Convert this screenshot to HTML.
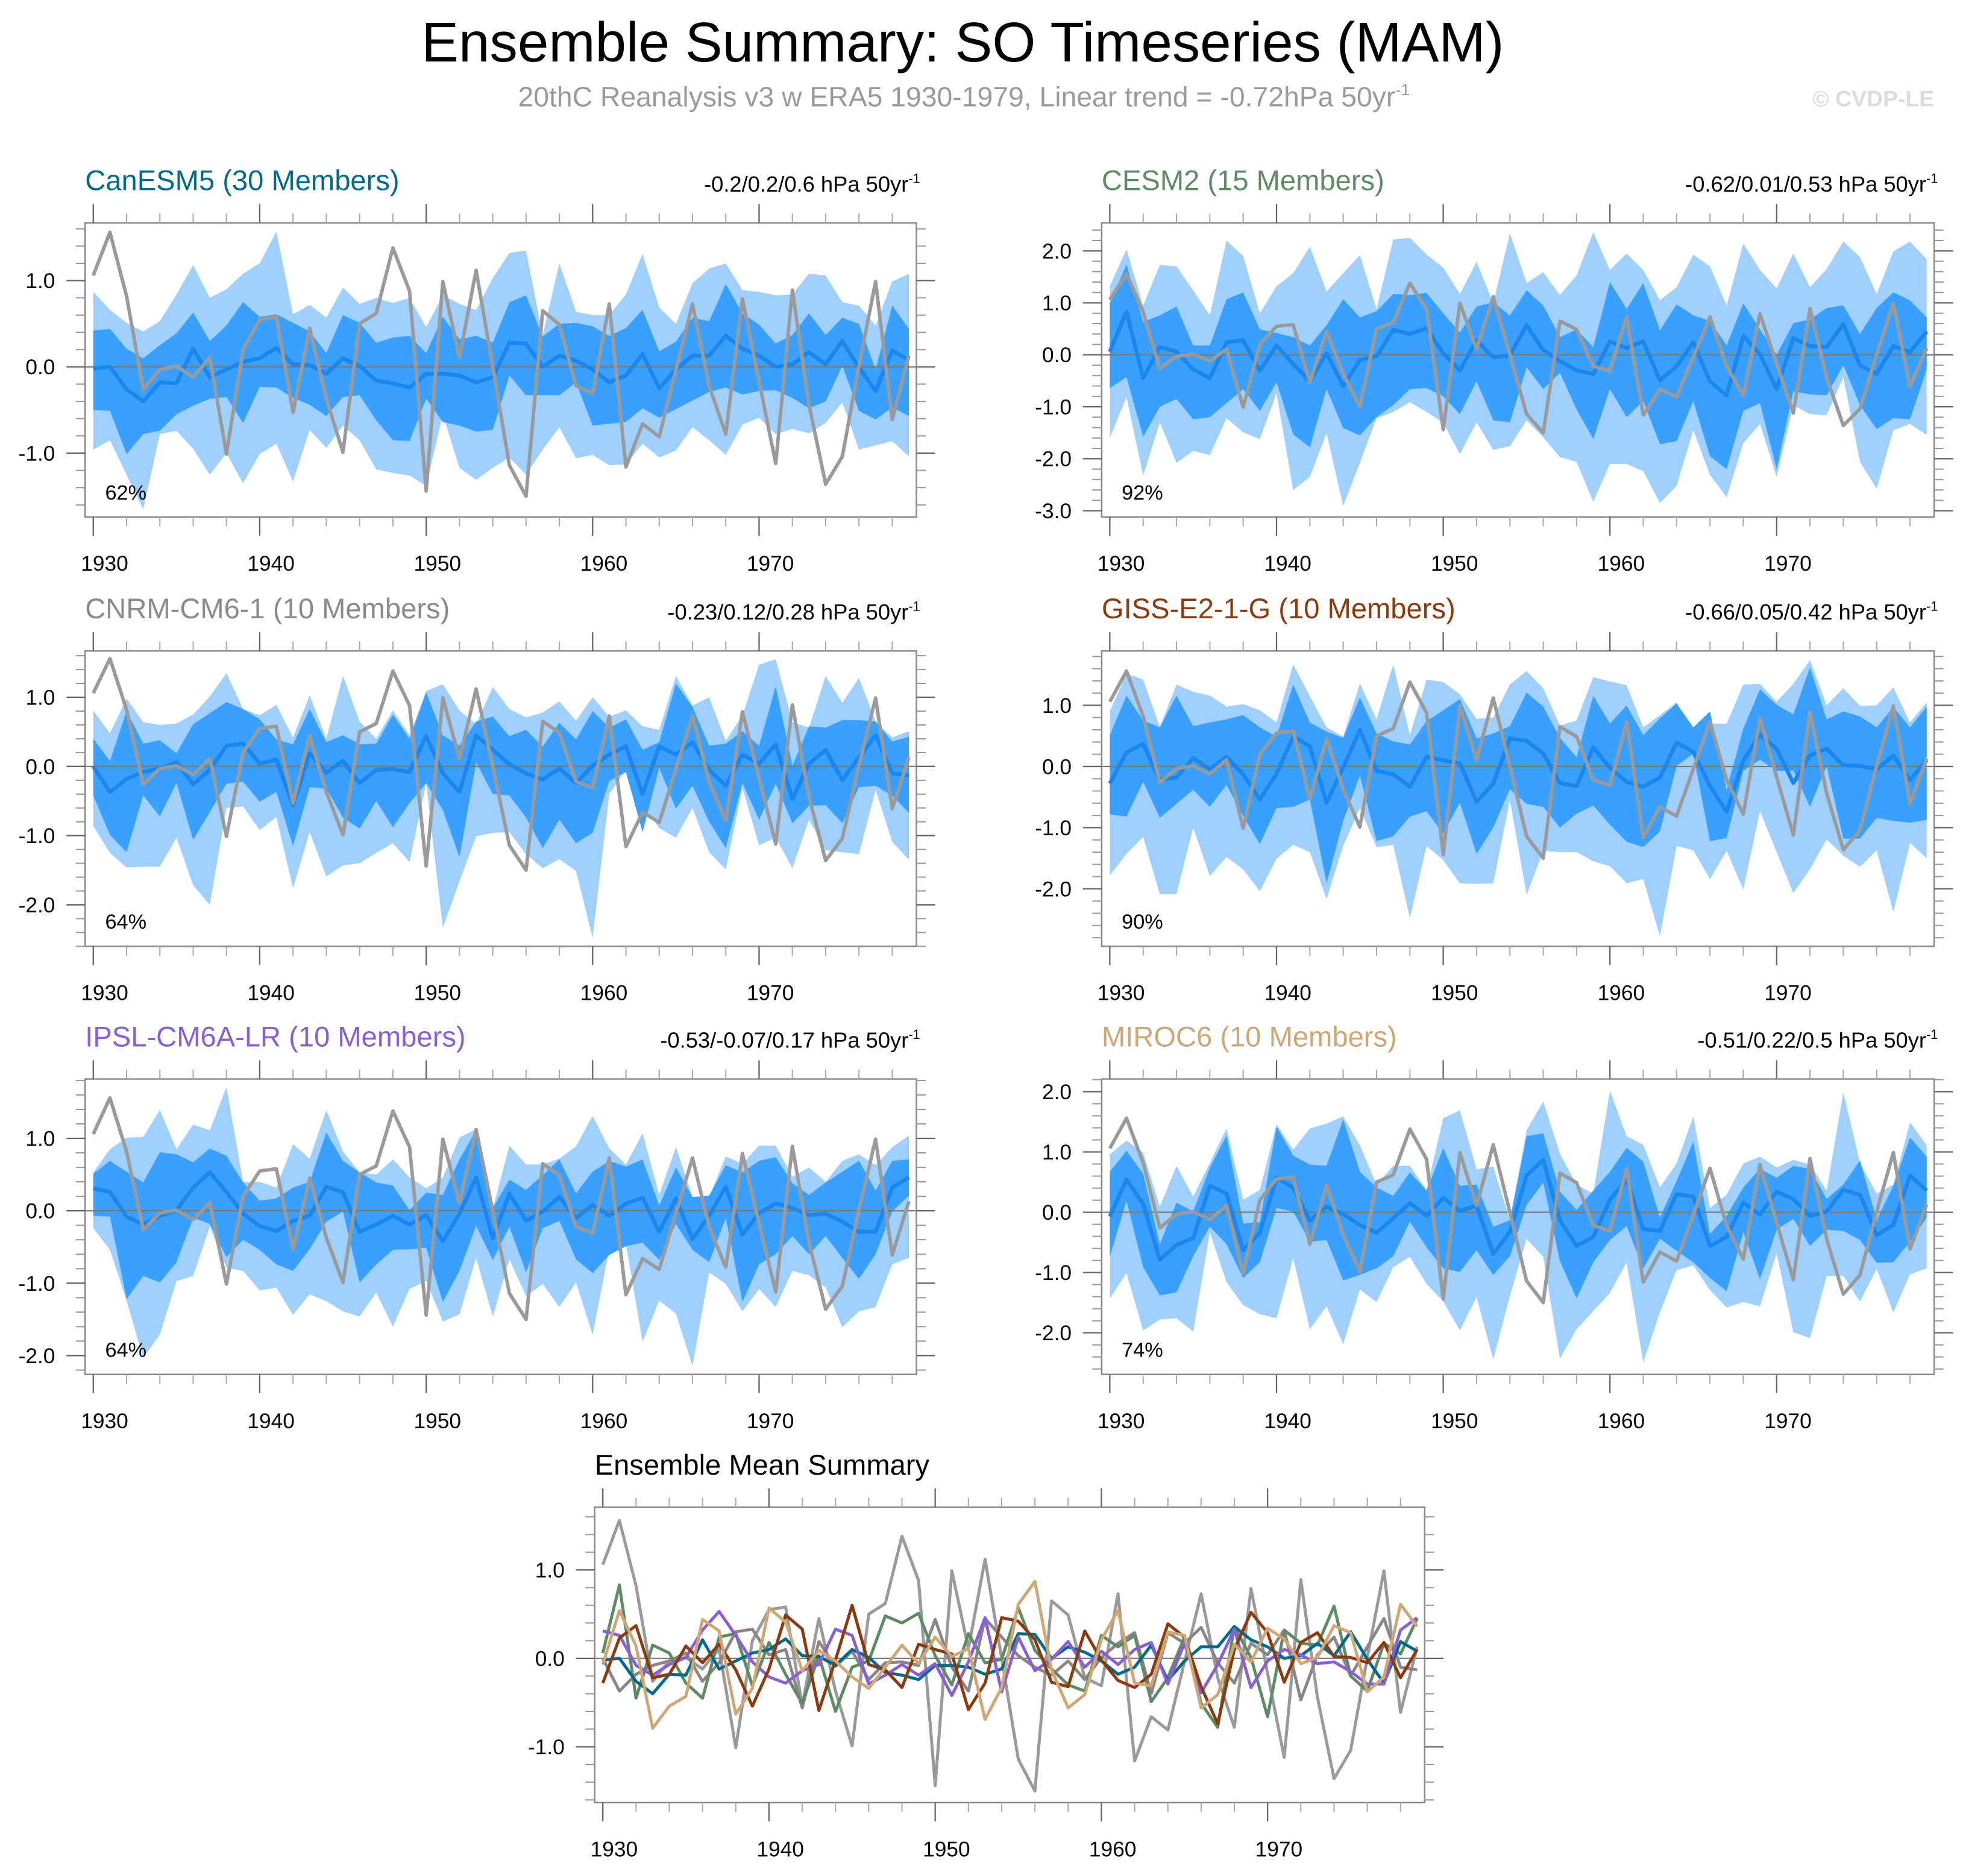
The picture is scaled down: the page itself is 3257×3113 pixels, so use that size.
<!DOCTYPE html>
<html><head><meta charset="utf-8">
<style>
html,body{margin:0;padding:0;background:#fff;}
svg{display:block;}
text{font-family:"Liberation Sans",Arial,sans-serif;}
</style></head>
<body>
<svg id="chart" xmlns="http://www.w3.org/2000/svg" width="3257" height="3113" viewBox="0 0 1568 1498.7">
<rect x="0" y="0" width="1568" height="1500" fill="#fff"/>
<text x="769" y="49" font-size="44.6" text-anchor="middle" fill="#000">Ensemble Summary: SO Timeseries (MAM)</text>
<text x="770" y="85" font-size="22.3" text-anchor="middle" fill="#9a9a9a">20thC Reanalysis v3 w ERA5 1930-1979, Linear trend = -0.72hPa 50yr<tspan dy="-9" font-size="13">-1</tspan></text>
<text x="1545" y="85" font-size="18" font-weight="bold" text-anchor="end" fill="#dcdcdc">© CVDP-LE</text>
<g id="plots"></g>
</svg>
<script>
const years = [1930,1931,1932,1933,1934,1935,1936,1937,1938,1939,1940,1941,1942,1943,1944,1945,1946,1947,1948,1949,1950,1951,1952,1953,1954,1955,1956,1957,1958,1959,1960,1961,1962,1963,1964,1965,1966,1967,1968,1969,1970,1971,1972,1973,1974,1975,1976,1977,1978,1979];
const obs = [1.06,1.56,0.82,-0.26,-0.03,0.01,-0.12,0.11,-1.01,0.20,0.55,0.58,-0.53,0.45,-0.37,-0.99,0.50,0.62,1.38,0.88,-1.44,0.99,0.11,1.12,0.0,-1.14,-1.50,0.65,0.49,-0.22,-0.31,0.73,-1.16,-0.66,-0.81,-0.04,0.73,-0.22,-0.78,0.79,-0.17,-1.12,0.89,-0.44,-1.36,-1.04,0.01,0.99,-0.61,0.13];

// CanESM5
const canHi2 = [0.87,0.66,0.51,0.41,0.53,0.84,1.18,0.80,0.90,1.08,1.20,1.57,0.61,0.72,0.57,0.92,0.73,0.80,0.74,0.80,0.46,0.83,0.73,0.66,1.03,1.32,1.35,0.37,1.20,0.64,0.60,0.60,0.84,1.31,0.69,0.50,0.97,1.14,1.20,0.89,0.87,0.83,0.84,1.08,1.06,0.75,0.71,0.48,0.99,1.08];
const canHi1 = [0.42,0.44,0.21,0.10,0.25,0.39,0.63,0.30,0.48,0.75,0.58,0.61,0.51,0.41,0.16,0.60,0.51,0.28,0.34,0.36,0.16,0.58,0.32,0.36,0.28,0.75,0.83,0.35,0.50,0.51,0.47,0.36,0.45,0.66,0.18,0.29,0.57,0.53,0.96,0.62,0.49,0.27,0.37,0.62,0.37,0.57,0.50,-0.03,0.71,0.44];
const canLo1 = [-0.50,-0.51,-1.01,-0.78,-0.74,-0.55,-0.45,-0.37,-0.35,-0.65,-0.23,-0.24,-0.36,-0.44,-0.57,-0.35,-0.33,-0.62,-0.85,-0.86,-0.37,-0.64,-0.68,-0.75,-0.73,-0.10,-0.33,-0.33,-0.33,-0.18,-0.68,-0.66,-0.64,-0.48,-0.59,-0.49,-0.39,-0.29,-0.24,-0.32,-0.28,-0.27,-0.36,-0.48,-0.40,0.01,-0.51,-0.61,-0.47,-0.57];
const canLo2 = [-0.96,-0.85,-1.25,-1.65,-0.78,-0.74,-0.95,-1.25,-1.00,-1.35,-1.01,-0.89,-1.33,-0.73,-0.94,-0.68,-0.85,-1.19,-1.23,-1.26,-1.38,-0.55,-1.17,-1.31,-1.17,-1.05,-1.25,-0.96,-0.70,-1.06,-1.02,-1.14,-1.13,-0.89,-1.05,-0.97,-0.70,-0.85,-1.02,-0.67,-0.59,-0.78,-0.72,-0.77,-0.65,-0.41,-0.96,-0.91,-0.86,-1.04];
const canMean = [-0.02,0,-0.26,-0.40,-0.18,-0.19,0.21,-0.12,-0.03,0.06,0.10,0.22,0.03,0.02,-0.08,0.10,0.01,-0.16,-0.19,-0.24,-0.08,-0.08,-0.10,-0.18,-0.12,0.28,0.27,0,0.13,0.07,-0.03,-0.18,-0.10,0.15,-0.25,-0.03,0.13,0.13,0.36,0.21,0.13,0,0.03,0.17,0.03,0.30,-0.01,-0.28,0.19,0.08];

// CESM2
const cesHi2 = [1.32,2.03,0.95,1.73,1.70,1.24,0.76,2.20,1.90,0.80,1.32,1.57,2.08,1.22,1.57,1.92,0.88,2.22,2.25,1.93,1.68,1.17,1.79,0.99,2.34,1.38,1.59,1.15,1.53,2.36,1.63,1.95,1.63,1.05,1.30,1.93,1.70,0.95,2.14,1.63,1.28,1.95,1.30,1.65,2.18,1.88,1.17,1.99,2.18,1.84];
const cesHi1 = [0.99,1.74,0.63,0.76,0.93,0.18,0.18,1.07,1.20,0.49,0.42,0.34,0.18,0.57,1.07,0.72,0.84,1.17,1.15,1.19,0.80,0.43,0.93,1.01,0.76,1.24,0.95,0.34,0.49,0.15,1.40,0.88,1.38,0.47,0.97,0.76,0.65,0.18,0.99,0.49,0,0.61,0.68,0.90,0.95,0.40,0.90,1.20,1.05,0.72];
const cesLo1 = [-0.64,-0.43,-1.58,-1.00,-0.85,-1.24,-1.20,-0.93,-0.66,-1.08,-0.53,-1.53,-1.78,-0.66,-1.41,-1.55,-1.20,-0.97,-0.66,-0.64,-0.80,-1.14,-0.51,-1.26,-1.30,-0.24,-0.66,-0.35,-1.05,-1.62,-0.66,-1.20,-0.89,-1.72,-1.66,-0.89,-1.95,-2.20,-1.08,-0.93,-2.20,-0.70,-0.76,-0.78,-0.20,-0.97,-1.43,-1.22,-1.24,-0.28];
const cesLo2 = [-1.60,-0.81,-2.33,-1.30,-2.08,-1.85,-1.93,-1.22,-1.49,-1.62,-0.74,-2.60,-2.35,-1.51,-2.91,-2.08,-1.22,-1.10,-0.91,-1.10,-1.31,-1.91,-1.30,-1.83,-1.76,-1.26,-1.59,-1.97,-2.06,-2.83,-2.10,-2.10,-2.24,-2.85,-2.52,-1.45,-2.31,-2.74,-1.70,-1.33,-2.35,-0.97,-1.14,-1.16,-0.43,-2.06,-2.58,-1.45,-1.33,-1.54];
const cesMean = [0.06,0.83,-0.45,0.15,0.06,-0.28,-0.45,0.24,0.28,-0.31,0.18,-0.18,-0.51,0.03,-0.60,-0.10,-0.03,0.48,0.40,0.51,0.03,-0.30,0.28,-0.05,-0.01,0.57,0.09,-0.12,-0.30,-0.37,0.26,0.13,0.26,-0.49,-0.22,0.24,-0.51,-0.78,0.36,0.01,-0.66,0.32,0.17,0.15,0.59,-0.20,-0.37,0.17,0.05,0.45];

// CNRM-CM6-1
const cnrHi2 = [0.81,0.48,0.98,0.64,0.60,0.62,0.75,1.01,1.35,0.83,0.74,0.89,0.42,1.03,0.40,1.31,0.65,0.40,0.81,0.45,1.09,1.19,0.81,0.61,1.15,0.83,0.71,0.78,0.94,0.66,1.00,0.72,0.81,0.58,0.53,1.31,0.88,1.00,0.37,0.74,1.47,1.55,0.64,0.56,1.31,0.92,1.28,0.65,0.42,0.51];
const cnrHi1 = [0.40,0.08,0.80,0.33,0.38,0.19,0.61,0.77,0.93,0.83,0.68,0.39,0.32,0.83,0.35,0.45,0.32,0.33,0.75,0.40,1.07,0.45,0.30,0.65,0.72,0.44,0.53,0.29,0.63,0.39,0.80,0.56,0.68,0.24,0.35,1.20,0.86,0.30,0.33,0.51,0.30,1.16,0.01,0.58,0.56,0.67,0.67,0.65,0.36,0.43];
const cnrLo1 = [-0.42,-0.99,-1.24,-0.42,-0.72,-0.24,-1.06,-0.66,-0.25,-0.22,-0.51,-0.37,-1.15,-0.30,-0.32,-0.74,-0.90,-0.50,-0.88,-0.53,-0.24,-0.63,-1.31,0.06,-0.40,-0.42,-0.74,-1.18,-0.77,-1.11,-0.96,-0.21,-0.08,-0.95,-0.02,-0.61,-0.28,-0.80,-1.18,-0.24,-0.77,-0.25,-0.82,-0.57,-0.56,-0.82,-0.30,-0.28,-0.42,-0.67];
const cnrLo2 = [-0.86,-1.25,-1.46,-1.45,-1.45,-1.03,-1.72,-2.00,-0.60,-0.58,-0.92,-0.73,-1.76,-0.95,-1.59,-1.43,-1.40,-1.25,-1.11,-1.38,-0.24,-2.33,-1.66,-1.01,-0.96,-0.95,-1.27,-1.47,-1.34,-1.51,-2.48,-0.40,-0.05,-0.57,-0.89,-1.03,-0.60,-1.24,-1.49,-0.31,-1.14,-1.03,-1.47,-0.77,-1.21,-1.24,-1.27,-0.34,-1.09,-1.35];
const cnrMean = [0,-0.37,-0.18,-0.08,-0.03,0.06,-0.26,-0.05,0.30,0.33,0.04,0.10,-0.56,0.19,-0.09,0.08,-0.24,-0.05,-0.04,-0.08,0.44,-0.10,-0.37,0.45,0.24,0.03,-0.10,-0.19,-0.03,-0.24,0.01,0.17,0.29,-0.40,0.29,0.17,0.35,-0.05,-0.28,0.17,0.04,0.32,-0.47,0.04,0.24,-0.20,0.13,0.45,-0.10,-0.13];

// GISS-E2-1-G
const gisHi2 = [0.90,1.52,1.42,0.65,1.34,1.22,1.16,0.98,1.02,0.92,0.72,1.67,1.15,0.64,0.49,1.36,0.77,1.67,0.51,1.42,1.38,1.18,0.78,0.80,1.34,1.56,1.28,0.67,0.75,1.46,1.39,1.33,0.64,0.84,1.05,0.51,0.70,0.70,1.34,1.35,1.06,1.35,1.74,1.00,1.28,0.99,1.00,1.29,0.72,1.05];
const gisHi1 = [0.51,1.16,0.75,0.64,1.16,0.66,0.72,0.77,0.84,0.64,0.49,1.34,0.72,0.57,0.47,1.13,0.54,0.41,0.36,0.74,0.92,1.10,0.46,0.54,0.66,1.21,0.98,0.47,0.15,1.16,0.70,1.00,0.51,0.79,1.03,0.64,0.90,-0.38,0.62,1.26,1.01,0.85,1.62,0.77,0.90,0.82,0.64,0.97,0.64,0.98];
const gisLo1 = [-0.78,-0.82,-0.25,-0.84,-0.61,-0.38,-0.66,-0.30,-0.81,-1.27,-0.68,-0.66,-0.54,-1.91,-0.89,-0.15,-1.22,-1.14,-0.82,-0.73,-1.10,-0.59,-1.43,-1.00,-0.37,-0.61,-0.66,-1.00,-0.77,-0.64,-0.95,-1.23,-1.32,-1.06,0.01,0.21,-1.22,-1.17,-0.07,0.11,-0.07,-0.07,-0.66,0.01,-1.18,-1.18,-0.84,-0.89,-0.92,-0.87];
const gisLo2 = [-1.78,-1.43,-1.15,-2.09,-2.09,-1.00,-1.79,-1.48,-1.68,-2.04,-1.51,-1.28,-1.40,-2.17,-1.30,-0.68,-1.32,-1.28,-2.48,-1.30,-1.53,-1.91,-1.92,-1.91,-0.55,-2.10,-1.38,-1.40,-1.40,-1.55,-1.63,-1.91,-1.84,-2.78,-1.30,-1.37,-1.84,-1.38,-2.01,-0.73,-1.40,-2.07,-1.68,-1.19,-1.46,-1.64,-1.37,-2.38,-1.25,-1.50];
const gisMean = [-0.28,0.23,0.37,-0.22,-0.18,0.14,-0.05,0.16,-0.13,-0.54,-0.12,0.49,0.33,-0.59,-0.02,0.60,-0.07,-0.13,-0.33,0.16,0.10,0.05,-0.58,-0.28,0.46,0.42,0.21,-0.27,-0.32,0.31,-0.02,-0.25,-0.33,-0.18,0.39,0.24,-0.32,-0.74,0.10,0.52,0.29,-0.27,0.18,0.29,0.02,0.01,-0.05,0.18,-0.22,0.10];

// IPSL-CM6A-LR
const ipsHi2 = [0.53,0.85,1.01,1.02,1.39,0.85,1.19,1.11,1.71,0.40,0.40,0.32,0.92,0.72,1.39,0.82,0.53,0.50,0.71,0.46,0.31,0.46,1.01,1.13,0.03,0.90,0.64,0.64,0.72,0.89,1.31,0.86,0.64,1.07,0.22,0.88,0.19,0.19,0.75,0.65,0.90,0.90,0.47,0.60,0.40,0.69,0.78,0.63,0.88,1.04];
const ipsHi1 = [0.51,0.69,0.54,0.39,0.81,0.78,0.67,0.86,0.76,0.39,0.14,0.17,0.32,0.40,1.08,0.69,0.53,0.39,0.35,0.01,0.25,0.22,0.71,1.11,0.04,0.43,0.29,0.49,0.71,0.24,0.54,0.69,0.61,0.71,0.07,0.60,0.19,0.21,0.63,0.53,0.69,0.74,0.38,0.22,0.39,0.54,0.69,0.28,0.69,0.71];
const ipsLo1 = [-0.07,-0.08,-1.22,-0.90,-0.99,-0.71,-0.10,-0.18,-0.64,-0.40,-0.54,-0.74,-0.83,-0.53,-0.15,-0.01,-0.99,-0.74,-0.54,-0.53,-0.51,-1.26,-0.83,-0.21,-0.68,-0.22,-0.85,-0.24,-0.14,-0.67,-0.86,-0.61,-0.49,-0.44,-0.68,-0.18,-0.54,-0.71,-0.10,-1.26,-0.74,-0.60,-0.35,-0.60,-0.35,-0.65,-0.94,-0.60,-0.01,0.21];
const ipsLo2 = [-0.24,-0.54,-1.24,-2.03,-1.71,-0.97,-0.90,-0.22,-0.79,-0.83,-1.10,-1.06,-1.44,-1.15,-1.25,-1.39,-1.46,-1.13,-1.60,-1.08,-0.97,-1.53,-1.43,-0.65,-1.46,-0.67,-1.18,-1.01,-1.33,-0.99,-1.71,-0.53,-0.46,-1.81,-1.24,-1.42,-2.14,-0.85,-1.01,-1.39,-1.08,-1.33,-0.83,-0.89,-1.06,-1.61,-1.39,-1.33,-0.74,-0.65];
const ipsMean = [0.31,0.26,-0.08,-0.19,-0.07,0.01,0.32,0.53,0.26,-0.04,-0.21,-0.28,-0.14,-0.07,0.33,0.26,-0.29,-0.19,-0.07,-0.19,-0.06,-0.42,-0.04,0.46,-0.38,0.24,-0.14,-0.01,0.19,-0.10,0.08,-0.07,0.10,0.18,-0.29,0.17,-0.39,-0.07,0.33,-0.33,-0.03,0.10,0.04,-0.06,-0.04,-0.15,-0.29,-0.29,0.32,0.46];

// MIROC6
const mirHi2 = [0.96,1.19,0.99,0.09,0.77,0.26,0.82,1.39,0.21,0.37,1.46,1.04,1.39,1.47,1.59,1.11,0.46,0.77,0.77,0.37,1.56,1.69,0.71,0.76,-0.13,1.36,1.84,0.97,0.46,0.31,2.02,1.26,1.12,0.41,0.81,1.59,0.07,0.29,0.81,0.92,0.74,0.87,0.79,0.36,1.99,0.82,0.31,0.46,1.49,1.11];
const mirHi1 = [0.67,1.02,0.64,-0.53,0.16,0.01,0.74,1.27,-0.19,-0.16,1.42,0.94,0.79,0.77,1.54,0.67,0.41,0.27,0.66,0.36,1.06,0.44,0.46,-0.24,-0.13,1.26,1.31,0.34,0.04,0.36,0.67,1.07,0.84,-0.09,0.52,1.17,-0.36,-0.06,0.41,0.72,0.57,0.77,0.72,0.22,0.46,0.86,-0.13,0.44,1.24,0.92];
const mirLo1 = [-0.74,0.19,-0.91,-1.38,-1.33,-0.73,-0.24,-0.53,-1.09,-0.83,0.07,0.01,-0.49,-0.46,-1.13,-1.04,-0.93,-0.73,-0.16,-0.58,-0.93,-0.99,-0.63,-1.04,-0.73,0.12,0.49,-0.81,-1.43,-0.83,-0.46,-0.23,-0.93,-0.44,-0.64,-0.83,-1.09,-1.31,-0.33,-1.11,-0.29,-0.11,-0.56,-0.29,-0.31,-0.46,-0.84,-0.83,-0.49,-0.09];
const mirLo2 = [-1.43,-1.01,-1.96,-1.78,-1.76,-1.98,-0.33,-1.16,-1.54,-1.69,-1.76,-0.76,-1.94,-1.56,-2.19,-1.28,-1.49,-0.91,-0.74,-1.19,-1.48,-1.96,-1.41,-2.44,-1.39,-0.44,-0.74,-2.43,-1.94,-1.64,-1.34,-0.83,-2.49,-1.66,-0.96,-0.88,-1.29,-1.58,-1.49,-1.56,-0.68,-1.99,-2.09,-1.06,-1.06,-1.48,-0.94,-1.66,-1.03,-0.93];
const mirMean = [-0.07,0.54,0.14,-0.79,-0.54,-0.43,0.44,0.31,-0.63,-0.34,0.57,0.41,-0.14,0.09,-0.03,-0.21,-0.34,-0.10,0.15,-0.06,0.24,0.02,0.11,-0.69,-0.33,0.61,0.87,-0.13,-0.56,-0.41,0.21,0.54,-0.28,-0.31,0.30,0.26,-0.56,-0.41,0.16,-0.04,0.34,0.22,-0.06,0.01,0.37,0.29,-0.38,-0.21,0.61,0.36];

const modelNames = ["CanESM5 (30 Members)","CESM2 (15 Members)","CNRM-CM6-1 (10 Members)","GISS-E2-1-G (10 Members)","IPSL-CM6A-LR (10 Members)","MIROC6 (10 Members)"];
const modelTrends = ["-0.2/0.2/0.6","-0.62/0.01/0.53","-0.23/0.12/0.28","-0.66/0.05/0.42","-0.53/-0.07/0.17","-0.51/0.22/0.5"];
const modelPct = ["62%","92%","64%","90%","64%","74%"];
const modelColors = ["#006a8b","#5e8b64","#8a8a8a","#8b3a0e","#8a5fd6","#d0a774"];
const summaryColors = ["#006a8b","#5e8b64","#8c8487","#8b3a0e","#8a5fd6","#d0a774"];
const yMins = [-1.74,-3.12,-2.60,-2.94,-2.26,-2.69];
const yMaxs = [1.67,2.54,1.67,1.89,1.82,2.21];
const yTicks = [[1,0,-1],[2,1,0,-1,-2,-3],[1,0,-1,-2],[1,0,-1,-2],[1,0,-1,-2],[2,1,0,-1,-2]];
const xTicks = [1930,1940,1950,1960,1970];

const bands = [
  [canHi2,canHi1,canLo1,canLo2,canMean],
  [cesHi2,cesHi1,cesLo1,cesLo2,cesMean],
  [cnrHi2,cnrHi1,cnrLo1,cnrLo2,cnrMean],
  [gisHi2,gisHi1,gisLo1,gisLo2,gisMean],
  [ipsHi2,ipsHi1,ipsLo1,ipsLo2,ipsMean],
  [mirHi2,mirHi1,mirLo1,mirLo2,mirMean]
];

const NS = "http://www.w3.org/2000/svg";
const root = document.getElementById("plots");
function mk(tag, attrs, parent){
  const e = document.createElementNS(NS, tag);
  for (const k in attrs) e.setAttribute(k, attrs[k]);
  (parent||root).appendChild(e);
  return e;
}
function scales(box, ymin, ymax){
  const x0 = box.x + 6.5, x1 = box.x + box.w - 6;
  const sx = y => x0 + (y - years[0]) / (years[years.length-1] - years[0]) * (x1 - x0);
  const sy = v => box.y + (ymax - v) / (ymax - ymin) * box.h;
  return {sx, sy};
}
function drawAxes(g, box, ymin, ymax, ticks, sx, sy){
  const axc = "#666";
  for (let v = Math.ceil(ymin*5)/5; v <= ymax + 1e-9; v += 0.2) {
    const vv = Math.round(v*10)/10;
    const major = Math.abs(vv - Math.round(vv)) < 1e-6;
    const len = major ? 15 : 7.5;
    const y = sy(vv);
    const t1 = mk("line",{x1:box.x-len,y1:y,x2:box.x,y2:y,stroke:major?axc:"#999","stroke-width":major?1.1:1},g);
    
    
    const t2 = mk("line",{x1:box.x+box.w,y1:y,x2:box.x+box.w+len,y2:y,stroke:major?axc:"#999","stroke-width":major?1.1:1},g);
    
    
  }
  ticks.forEach(v => {
    const t = mk("text",{x:box.x-24,y:sy(v)+6,"font-size":17,"text-anchor":"end",fill:"#000"},g);
    t.textContent = v.toFixed(1);
    
    
  });
  for (let yr = 1930; yr <= 1979; yr += 2) {
    const major = yr % 10 === 0;
    const len = major ? 15 : 7.5;
    const x = sx(yr);
    const b = mk("line",{x1:x,y1:box.y+box.h,x2:x,y2:box.y+box.h+len,stroke:major?axc:"#aaa","stroke-width":major?1.1:1},g);
    
    
    const t = mk("line",{x1:x,y1:box.y-len,x2:x,y2:box.y,stroke:major?axc:"#aaa","stroke-width":major?1.1:1},g);
    
    
  }
  xTicks.forEach(yr => {
    const t = mk("text",{x:sx(yr)+9,y:box.y+box.h+43,"font-size":17,"text-anchor":"middle",fill:"#000"},g);
    t.textContent = yr;
    
    
  });
}
function pts(arr, sx, sy){ return arr.map((v,i)=>sx(years[i]).toFixed(2)+","+sy(v).toFixed(2)); }
function bandPath(hi, lo, sx, sy){
  const a = pts(hi, sx, sy), b = pts(lo, sx, sy).reverse();
  return "M" + a.join(" L") + " L" + b.join(" L") + " Z";
}

const boxes = [
  {x:68,y:178,w:664,h:235},{x:880,y:178,w:665,h:235},
  {x:68,y:520,w:664,h:236},{x:880,y:520,w:665,h:236},
  {x:68,y:862,w:664,h:236},{x:880,y:862,w:665,h:236}
];

boxes.forEach((box, m) => {
  const g = mk("g",{});
  
  
  const {sx, sy} = scales(box, yMins[m], yMaxs[m]);
  const [hi2, hi1, lo1, lo2, mean] = bands[m];
  const l = mk("path",{d:bandPath(hi2,lo2,sx,sy),fill:"#9fd0ff"},g);
  
  
  const d = mk("path",{d:bandPath(hi1,lo1,sx,sy),fill:"#39a0ff"},g);
  
  
  const z = mk("line",{x1:box.x,y1:sy(0),x2:box.x+box.w,y2:sy(0),stroke:"#777","stroke-width":1},g);
  
  
  const ml = mk("polyline",{points:pts(mean,sx,sy).join(" "),fill:"none",stroke:"#1b86ee","stroke-width":3.2,"stroke-linejoin":"round"},g);
  
  
  const ol = mk("polyline",{points:pts(obs,sx,sy).join(" "),fill:"none",stroke:"#9a9a9a","stroke-width":2.8,"stroke-linejoin":"round"},g);
  
  
  const fr = mk("rect",{x:box.x,y:box.y,width:box.w,height:box.h,fill:"none",stroke:"#888","stroke-width":1.2},g);
  
  
  drawAxes(g, box, yMins[m], yMaxs[m], yTicks[m], sx, sy);
  const tt = mk("text",{x:box.x,y:box.y-26,"font-size":22.7,fill:modelColors[m]},g);
  tt.textContent = modelNames[m];
  
  
  const tr = mk("text",{x:box.x+box.w+3,y:box.y-25,"font-size":17.5,"text-anchor":"end",fill:"#000"},g);
  tr.innerHTML = modelTrends[m] + ' hPa 50yr<tspan dy="-7" font-size="10.5">-1</tspan>';
  
  
  const pc = mk("text",{x:box.x+16,y:box.y+box.h-14,"font-size":16.5,fill:"#000"},g);
  pc.textContent = modelPct[m];
  
  
});

(function(){
  const box = {x:475,y:1204,w:663,h:236};
  const ymin = -1.63, ymax = 1.71;
  const g = mk("g",{});
  
  
  const {sx, sy} = scales(box, ymin, ymax);
  const z = mk("line",{x1:box.x,y1:sy(0),x2:box.x+box.w,y2:sy(0),stroke:"#777","stroke-width":1},g);
  
  
  const ol = mk("polyline",{points:pts(obs,sx,sy).join(" "),fill:"none",stroke:"#9a9a9a","stroke-width":2.4,"stroke-linejoin":"round"},g);
  
  
  const order = [2,1,0,4,3,5];
  order.forEach(m => {
    const pl = mk("polyline",{points:pts(bands[m][4],sx,sy).join(" "),fill:"none",stroke:summaryColors[m],"stroke-width":2.4,"stroke-linejoin":"round"},g);
    
    
  });
  const fr = mk("rect",{x:box.x,y:box.y,width:box.w,height:box.h,fill:"none",stroke:"#888","stroke-width":1.2},g);
  
  
  drawAxes(g, box, ymin, ymax, [1,0,-1], sx, sy);
  const tt = mk("text",{x:box.x,y:box.y-26,"font-size":22.7,fill:"#000"},g);
  tt.textContent = "Ensemble Mean Summary";
  
  
})();
</script>
</body></html>
